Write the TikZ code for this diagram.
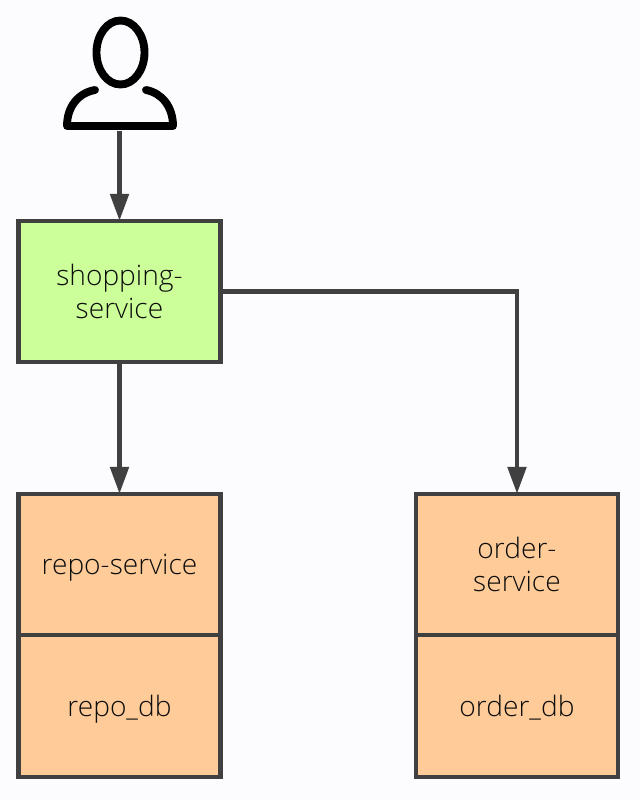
\documentclass[tikz,border=0pt]{standalone}
\usepackage{xcolor}
\usepackage{fontspec}
\setmainfont{Open Sans}[UprightFont=* Light]
\usetikzlibrary{arrows.meta, positioning}
\definecolor{pagebg}{HTML}{FCFBFE}
\definecolor{edgegray}{HTML}{404040}
\definecolor{servicegreen}{HTML}{CCFF99}
\definecolor{serviceorange}{HTML}{FFCC99}
\tikzset{
  svcbox/.style={draw=edgegray, line width=3pt, minimum width=5.05cm, minimum height=3.54cm,
    align=center, font=\fontsize{20}{23.5}\selectfont, text=black!95, inner sep=0pt,
    outer sep=0pt, text depth=-2.6pt},
  flow/.style={draw=edgegray, line width=3pt, -{Triangle[length=19pt, width=13pt]}}
}
\begin{document}
\begin{tikzpicture}[x=0.025cm, y=-0.025cm]
    \useasboundingbox[fill=pagebg] (0,0) rectangle (640,800);
    % Person icon
    \node[minimum width=2.85cm, minimum height=2.85cm, inner sep=0pt] (user) at (119.5,74) {};
    \draw[black, line width=5.6pt] (120.5,52.5) ellipse (24 and 32);
    \draw[black, line width=5.6pt, line cap=round, line join=round]
      (95,90) .. controls (78,93) and (67,107) .. (67,126) -- (173,126)
      .. controls (173,107) and (162,93) .. (146,90);
    % Service boxes
    \node[svcbox, fill=servicegreen] (shopping) at (119.5,291.5) {shopping-\\service};
    \node[svcbox, fill=serviceorange] (repo) at (119.5,564.5) {repo-service};
    \node[svcbox, fill=serviceorange, below=0pt of repo] (repodb) {repo\_db};
    \node[svcbox, fill=serviceorange] (order) at (517,564.5) {order-\\service};
    \node[svcbox, fill=serviceorange, below=0pt of order] (orderdb) {order\_db};
    % Connectors
    \draw[flow] (user.south) -- (shopping.north);
    \draw[flow] (shopping.south) -- (repo.north);
    \draw[flow] (shopping.east) -| (order.north);
  \end{tikzpicture}
\end{document}
